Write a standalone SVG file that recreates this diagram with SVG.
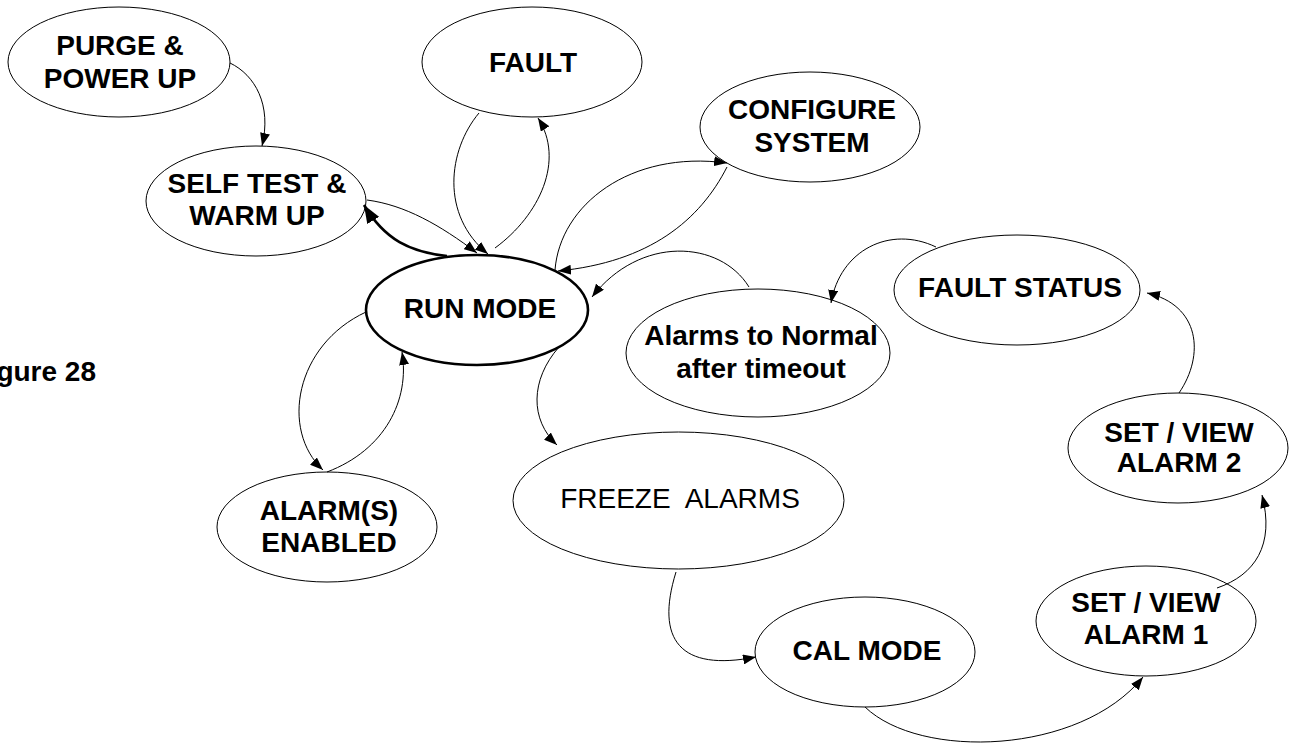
<svg xmlns="http://www.w3.org/2000/svg" width="1296" height="743" viewBox="0 0 1296 743">
<style>
.n{fill:#fff;stroke:#000;stroke-width:1}
.thick{stroke-width:2.6}
.t{font-family:"Liberation Sans",Arial,sans-serif;font-size:28px;font-weight:bold;text-anchor:middle;fill:#000}
.r{font-weight:normal;white-space:pre}
.c{fill:none;stroke:#000;stroke-width:1}
.ct{fill:none;stroke:#000;stroke-width:2.6}
</style>
<defs>
<marker id="a" markerUnits="userSpaceOnUse" markerWidth="13" markerHeight="10" refX="13" refY="5" orient="auto"><path d="M0,0 L13,5 L0,10 z" fill="#000"/></marker>
<marker id="b" markerUnits="userSpaceOnUse" markerWidth="18" markerHeight="14" refX="18" refY="7" orient="auto"><path d="M0,0 L18,7 L0,14 z" fill="#000"/></marker>
</defs>
<text class="t" x="96" y="381" style="text-anchor:end">gure 28</text>
<g id="purge"><ellipse class="n" cx="119" cy="62" rx="111" ry="55"/><text class="t" x="120" y="55">PURGE &amp;</text><text class="t" x="120" y="88">POWER UP</text></g>
<g id="selftest"><ellipse class="n" cx="256" cy="201" rx="110" ry="55"/><text class="t" x="257" y="193">SELF TEST &amp;</text><text class="t" x="257" y="225">WARM UP</text></g>
<g id="fault"><ellipse class="n" cx="532" cy="62" rx="110" ry="55"/><text class="t" x="533" y="72">FAULT</text></g>
<g id="configure"><ellipse class="n" cx="810" cy="127" rx="110" ry="55"/><text class="t" x="812" y="119">CONFIGURE</text><text class="t" x="812" y="152">SYSTEM</text></g>
<g id="run"><ellipse class="n thick" cx="477" cy="310" rx="111" ry="55"/><text class="t" x="480" y="318">RUN MODE</text></g>
<g id="alarms-enabled"><ellipse class="n" cx="327" cy="527" rx="110" ry="55"/><text class="t" x="329" y="520">ALARM(S)</text><text class="t" x="329" y="552">ENABLED</text></g>
<g id="alarms-normal"><ellipse class="n" cx="758" cy="353" rx="132" ry="64"/><text class="t" x="761" y="345">Alarms to Normal</text><text class="t" x="761" y="378">after timeout</text></g>
<g id="fault-status"><ellipse class="n" cx="1017" cy="290" rx="123" ry="55"/><text class="t" x="1020" y="297">FAULT STATUS</text></g>
<g id="freeze"><ellipse class="n" cx="678.5" cy="500.5" rx="165.5" ry="68.5"/><text class="t r" x="680" y="508">FREEZE  ALARMS</text></g>
<g id="cal"><ellipse class="n" cx="865" cy="652" rx="110" ry="55"/><text class="t" x="867" y="660">CAL MODE</text></g>
<g id="sv1"><ellipse class="n" cx="1146" cy="621" rx="110" ry="55"/><text class="t" x="1146" y="612">SET / VIEW</text><text class="t" x="1146" y="644">ALARM 1</text></g>
<g id="sv2"><ellipse class="n" cx="1178" cy="448" rx="110" ry="55"/><text class="t" x="1179" y="442">SET / VIEW</text><text class="t" x="1179" y="472">ALARM 2</text></g>
<g id="connectors">
<path class="c" marker-end="url(#a)" d="M230,63 C255,75 272,105 262,146"/>
<path class="c" marker-end="url(#a)" d="M367,200 C405,205 440,225 477,253"/>
<path class="ct" marker-end="url(#b)" d="M447,256 C410,252 385,240 364,205"/>
<path class="c" marker-end="url(#a)" d="M479,113 C448,150 440,215 488,254"/>
<path class="c" marker-end="url(#a)" d="M495,248 C540,215 565,160 538,118"/>
<path class="c" marker-end="url(#a)" d="M555,270 C560,205 630,150 727,163"/>
<path class="c" marker-end="url(#a)" d="M727,167 C700,220 650,262 558,271"/>
<path class="c" marker-end="url(#a)" d="M749,287 C720,240 640,235 592,297"/>
<path class="c" marker-end="url(#a)" d="M936,247 C890,225 840,250 831,303"/>
<path class="c" marker-end="url(#a)" d="M559,347 C530,380 530,420 557,445"/>
<path class="c" marker-end="url(#a)" d="M366,312 C295,345 280,430 323,470"/>
<path class="c" marker-end="url(#a)" d="M327,472 C385,450 410,400 402,352"/>
<path class="c" marker-end="url(#a)" d="M676,572 C655,640 680,672 756,657"/>
<path class="c" marker-end="url(#a)" d="M865,707 C920,760 1080,755 1143,677"/>
<path class="c" marker-end="url(#a)" d="M1217,588 C1255,575 1275,545 1262,495"/>
<path class="c" marker-end="url(#a)" d="M1179,393 C1205,355 1200,305 1147,293"/>
</g>
</svg>
